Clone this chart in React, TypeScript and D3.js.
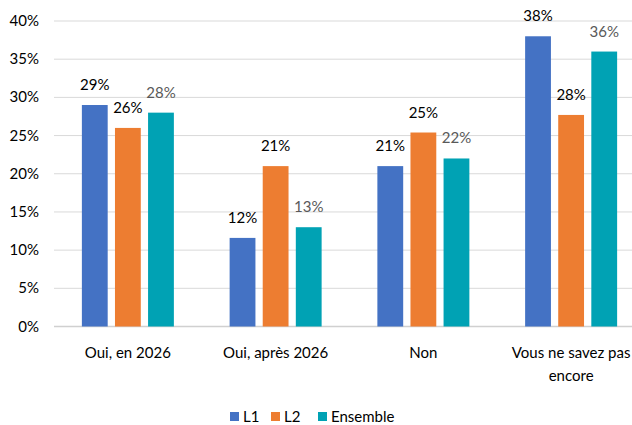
import * as d3 from "d3"
import { useRef, useEffect } from "react"

const categories = ["Oui, en 2026", "Oui, après 2026", "Non", "Vous ne savez pas encore"]
const categoryLines = [["Oui, en 2026"], ["Oui, après 2026"], ["Non"], ["Vous ne savez pas", "encore"]]
const seriesNames = ["L1", "L2", "Ensemble"]
const l1Values = [29, 11.6, 21, 38]
const l2Values = [26, 21, 25.4, 27.7]
const ensembleValues = [28, 13, 22, 36]
const seriesColors = ["#4472C4", "#ED7D31", "#00A2B4"]
const labelColors = ["#000000", "#000000", "#595959"]
const yTicks = [0, 5, 10, 15, 20, 25, 30, 35, 40]

const width = 632
const height = 425
const font = "Lato, 'Open Sans', sans-serif"

const App = () => {
  const svgRef = useRef<SVGSVGElement>(null)

  useEffect(() => {
    const svg = d3.select(svgRef.current)
    svg.selectAll("*").remove()

    const seriesValues = [l1Values, l2Values, ensembleValues]

    const x = d3.scaleBand().domain(categories).range([54, 645]).padding(0)
    const inner = d3.scaleBand().domain(seriesNames).range([-46, 46]).paddingInner(0.22)
    const y = d3.scaleLinear().domain([0, 40]).range([326.5, 21])

    // gridlines
    svg
      .append("g")
      .selectAll("line")
      .data(yTicks)
      .join("line")
      .attr("x1", 54)
      .attr("x2", 632)
      .attr("y1", (d) => y(d))
      .attr("y2", (d) => y(d))
      .attr("stroke", (d) => (d === 0 ? "#d0d0d0" : "#d9d9d9"))
      .attr("stroke-width", (d) => (d === 0 ? 1.5 : 1))

    // y tick labels
    svg
      .append("g")
      .selectAll("text")
      .data(yTicks)
      .join("text")
      .attr("x", 39)
      .attr("y", (d) => y(d) + 5)
      .attr("text-anchor", "end")
      .attr("font-family", font)
      .attr("font-size", 15)
      .attr("fill", "#000")
      .text((d) => `${d}%`)

    // bars + labels
    seriesNames.forEach((s, si) => {
      const g = svg.append("g")
      g.selectAll("rect")
        .data(categories)
        .join("rect")
        .attr("x", (c) => x(c)! + x.bandwidth() / 2 + inner(s)!)
        .attr("y", (c, i) => y(seriesValues[si][i]))
        .attr("width", inner.bandwidth())
        .attr("height", (c, i) => y(0) - y(seriesValues[si][i]))
        .attr("fill", seriesColors[si])
      g.selectAll("text")
        .data(categories)
        .join("text")
        .attr("x", (c) => x(c)! + x.bandwidth() / 2 + inner(s)! + inner.bandwidth() / 2)
        .attr("y", (c, i) => y(seriesValues[si][i]) - 15)
        .attr("text-anchor", "middle")
        .attr("font-family", font)
        .attr("font-size", 15)
        .attr("fill", labelColors[si])
        .text((c, i) => `${Math.round(seriesValues[si][i])}%`)
    })

    // x labels
    categories.forEach((c, i) => {
      const t = svg
        .append("text")
        .attr("x", x(c)! + x.bandwidth() / 2)
        .attr("y", 358)
        .attr("text-anchor", "middle")
        .attr("font-family", font)
        .attr("font-size", 15)
        .attr("fill", "#000")
      categoryLines[i].forEach((line, li) => {
        t.append("tspan")
          .attr("x", x(c)! + x.bandwidth() / 2)
          .attr("dy", li === 0 ? 0 : 23)
          .text(line)
      })
    })

    // legend
    const legendX = [230, 271, 318]
    seriesNames.forEach((s, si) => {
      svg
        .append("rect")
        .attr("x", legendX[si])
        .attr("y", 412)
        .attr("width", 9)
        .attr("height", 9)
        .attr("fill", seriesColors[si])
      svg
        .append("text")
        .attr("x", legendX[si] + 13)
        .attr("y", 422)
        .attr("font-family", font)
        .attr("font-size", 15)
        .attr("fill", "#000")
        .text(s)
    })
  }, [])

  return (
    <svg
      ref={svgRef}
      width={width}
      height={height}
      style={{ position: "absolute", left: 0, top: 0, background: "#fff" }}
    ></svg>
  )
}

export default App
